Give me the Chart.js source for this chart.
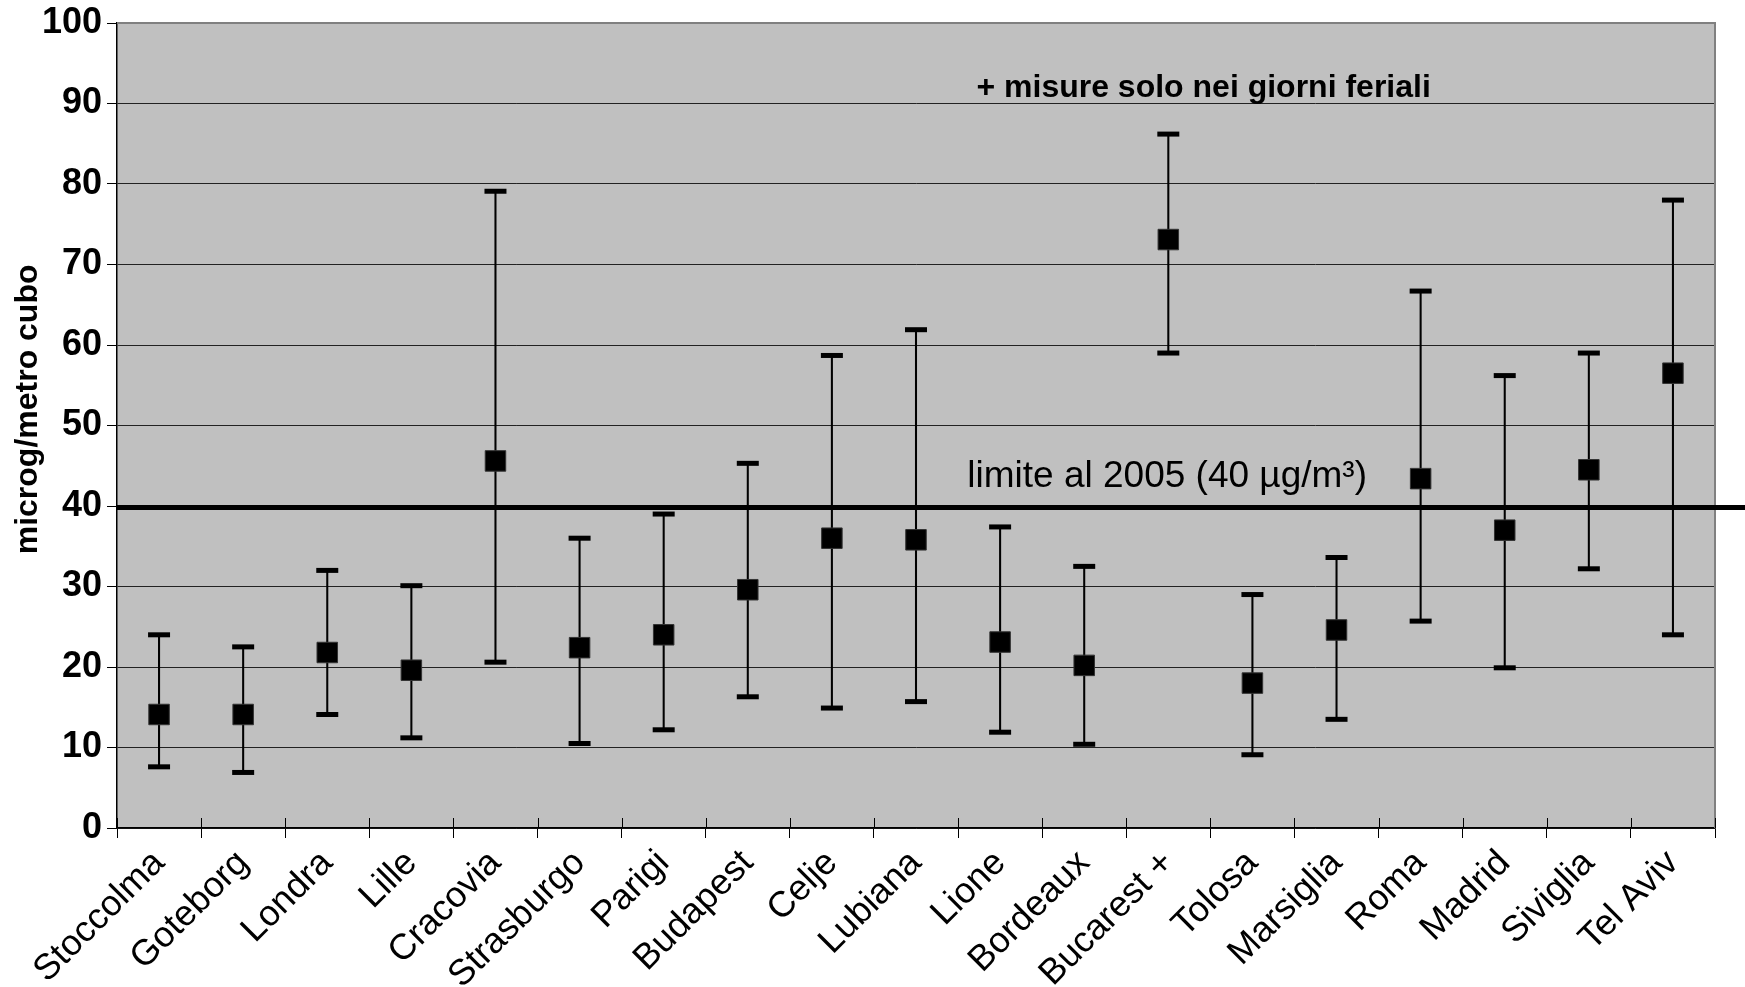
<!DOCTYPE html>
<html>
<head>
<meta charset="utf-8">
<script src="https://cdn.jsdelivr.net/npm/chart.js@4/dist/chart.umd.min.js"></script>
<style>
  html, body { margin: 0; padding: 0; background: #fff; }
  .wrap { position: relative; width: 1745px; height: 987px; }
</style>
</head>
<body>
<div class="wrap"><canvas id="c" width="1745" height="987"></canvas></div>
<script>
const cities = ['Stoccolma', 'Goteborg', 'Londra', 'Lille', 'Cracovia', 'Strasburgo', 'Parigi', 'Budapest', 'Celje', 'Lubiana',
  'Lione', 'Bordeaux', 'Bucarest +', 'Tolosa', 'Marsiglia', 'Roma', 'Madrid', 'Siviglia', 'Tel Aviv'];
const means = [14.1, 14.1, 21.8, 19.6, 45.6, 22.4, 24.0, 29.6, 36.0, 35.8, 23.1, 20.2, 73.1, 18.0, 24.6, 43.4, 37.0, 44.5, 56.5];
const upper = [24.0, 22.5, 32.0, 30.1, 79.1, 36.0, 39.0, 45.3, 58.7, 61.9, 37.4, 32.5, 86.2, 29.0, 33.6, 66.7, 56.2, 59.0, 78.0];
const lower = [7.6, 6.9, 14.1, 11.2, 20.6, 10.5, 12.2, 16.3, 14.9, 15.7, 11.9, 10.4, 59.0, 9.1, 13.5, 25.7, 19.9, 32.2, 24.0];
const limitValue = 39.8;
const yTicks = [0, 10, 20, 30, 40, 50, 60, 70, 80, 90, 100];

const FONT = '"Liberation Sans", Arial, Helvetica, sans-serif';

// gray plot background + frame, inner x ticks, limit line, y title and the two notes
const decor = {
  id: 'decor',
  beforeDraw(chart) {
    const { ctx, chartArea: a } = chart;
    ctx.save();
    ctx.fillStyle = '#c0c0c0';
    ctx.fillRect(a.left, a.top, a.right - a.left, a.bottom - a.top);
    ctx.restore();
  },
  afterDraw(chart) {
    const { ctx, chartArea: a, scales: { x, y } } = chart;
    ctx.save();
    // gray frame on top and right
    ctx.strokeStyle = '#808080';
    ctx.lineWidth = 2;
    ctx.beginPath();
    ctx.moveTo(a.left, a.top);
    ctx.lineTo(a.right, a.top);
    ctx.lineTo(a.right, a.bottom);
    ctx.stroke();
    // inner part of the x ticks
    ctx.strokeStyle = '#000';
    ctx.lineWidth = 1;
    for (let i = 0; i <= cities.length; i++) {
      const px = Math.round(x.getPixelForValue(i - 0.5)) + 0.5;
      ctx.beginPath();
      ctx.moveTo(px, a.bottom - 10);
      ctx.lineTo(px, a.bottom);
      ctx.stroke();
    }
    // limit line, from the axis to the right edge of the picture
    const ly = y.getPixelForValue(limitValue);
    ctx.lineWidth = 5;
    ctx.beginPath();
    ctx.moveTo(a.left, ly);
    ctx.lineTo(chart.width, ly);
    ctx.stroke();

    const at = (pos) => x.getPixelForValue(Math.floor(pos)) + (pos % 1) * (x.getPixelForValue(1) - x.getPixelForValue(0));
    ctx.fillStyle = '#000';
    ctx.textBaseline = 'alphabetic';
    ctx.font = 'bold 32px ' + FONT;
    ctx.textAlign = 'center';
    ctx.fillText('+ misure solo nei giorni feriali', at(12.42), y.getPixelForValue(90.8));
    ctx.font = '37px ' + FONT;
    ctx.textAlign = 'left';
    ctx.fillText('limite al 2005 (40 µg/m³)', at(9.61), y.getPixelForValue(42.3));

    // y axis title, a bit above the middle of the axis like the original
    ctx.translate(28, y.getPixelForValue(52));
    ctx.rotate(-Math.PI / 2);
    ctx.textAlign = 'center';
    ctx.textBaseline = 'middle';
    ctx.font = 'bold 32px ' + FONT;
    ctx.fillText('microg/metro cubo', 0, 0);
    ctx.restore();
  }
};

new Chart(document.getElementById('c'), {
  type: 'bar',
  data: {
    labels: cities,
    datasets: [
      {
        type: 'line',
        data: means,
        showLine: false,
        pointStyle: 'rect',
        pointRadius: 14.5,
        backgroundColor: '#000',
        borderColor: '#333',
        borderWidth: 1,
        order: 1
      },
      {
        type: 'line',
        data: upper,
        showLine: false,
        pointStyle: 'line',
        pointRadius: 11,
        borderColor: '#000',
        borderWidth: 5,
        order: 2
      },
      {
        type: 'line',
        data: lower,
        showLine: false,
        pointStyle: 'line',
        pointRadius: 11,
        borderColor: '#000',
        borderWidth: 5,
        order: 2
      },
      {
        data: lower.map((lo, i) => [lo, upper[i]]),
        backgroundColor: '#000',
        barThickness: 1.4,
        order: 3
      }
    ]
  },
  options: {
    responsive: false,
    animation: false,
    events: [],
    layout: { padding: { top: 21, right: 30, left: 0, bottom: 0 } },
    plugins: { legend: { display: false }, tooltip: { enabled: false } },
    scales: {
      x: {
        offset: true,
        grid: { display: true, drawOnChartArea: false, offset: true, tickLength: 10, color: '#000', lineWidth: 1 },
        border: { display: true, color: '#000', width: 1.5 },
        ticks: {
          color: '#000',
          font: { family: FONT, size: 36 },
          maxRotation: 45,
          minRotation: 45,
          padding: 4
        },
        afterFit(scale) { scale.height = 159; }
      },
      y: {
        min: 0,
        max: 100,
        afterBuildTicks(scale) { scale.ticks = yTicks.map(v => ({ value: v })); },
        grid: { color: '#222', lineWidth: 1, tickLength: 10, tickColor: '#000' },
        border: { display: true, color: '#000', width: 1.5 },
        ticks: {
          color: '#000',
          font: { family: FONT, size: 36, weight: 'bold', lineHeight: 1 },
          padding: 5
        },
        afterFit(scale) { scale.width = 117; }
      }
    }
  },
  plugins: [decor]
});
</script>
</body>
</html>
